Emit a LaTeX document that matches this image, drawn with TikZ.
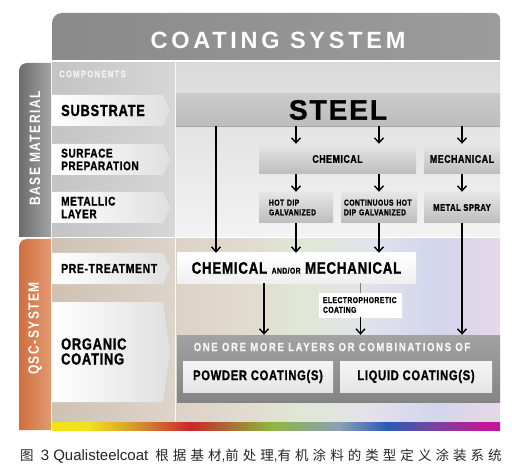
\documentclass[tikz,border=0pt]{standalone}
\usepackage{fontspec}
\setmainfont{Liberation Sans}
\newfontfamily\qsc[FakeStretch=0.8,FakeBold=1.2,LetterSpace=5]{Liberation Sans}
\newfontfamily\qscwide[FakeStretch=0.8,FakeBold=0.8,LetterSpace=14]{Liberation Sans}
\newfontfamily\qscband[FakeStretch=0.8,LetterSpace=10]{Liberation Sans}
\newfontfamily\qsctitle[LetterSpace=16]{Liberation Sans}
\newfontfamily\qscsteel[FakeBold=1.2,LetterSpace=7]{Liberation Sans}
\newfontfamily\cjk[LetterSpace=30]{Noto Sans CJK SC}
\usetikzlibrary{positioning,arrows.meta,shapes}

\definecolor{titleL}{HTML}{8A8A8A}
\definecolor{titleM}{HTML}{B2B2B2}
\definecolor{titleR}{HTML}{9C9C9C}
\definecolor{bandL}{HTML}{6C6C6C}
\definecolor{bandR}{HTML}{A4A4A4}
\definecolor{qscL}{HTML}{CF6F3F}
\definecolor{qscR}{HTML}{E29A72}
\definecolor{colL}{HTML}{C4C4C4}
\definecolor{colR}{HTML}{D6D6D6}
\definecolor{begL}{HTML}{CFC2B3}
\definecolor{begR}{HTML}{DDD4CA}
\definecolor{panelT}{HTML}{DADADA}
\definecolor{panelB}{HTML}{F3F3F3}
\definecolor{tabgray}{HTML}{E0E0E0}
\definecolor{silverA}{HTML}{E6E6E6}
\definecolor{silverB}{HTML}{BDBDBD}
\definecolor{darkA}{HTML}{A2A2A2}
\definecolor{darkB}{HTML}{848484}
\definecolor{pA}{HTML}{DDD2C6}
\definecolor{pB}{HTML}{E2DCD0}
\definecolor{pC}{HTML}{E0E8D4}
\definecolor{pD}{HTML}{E2E2EC}
\definecolor{pE}{HTML}{D2D5EC}
\definecolor{pF}{HTML}{E6D8E8}
\definecolor{rA}{HTML}{F2E21C}
\definecolor{rB}{HTML}{D89A30}
\definecolor{rC}{HTML}{C8282A}
\definecolor{rD}{HTML}{8CB83C}
\definecolor{rE}{HTML}{8AA0B8}
\definecolor{rF}{HTML}{2A5AB8}
\definecolor{rG}{HTML}{7048A0}
\definecolor{rH}{HTML}{C0189A}

\pgfdeclarehorizontalshading{pastel}{100bp}{color(0bp)=(pA); color(25bp)=(pA);
  color(37.5bp)=(pB); color(44bp)=(pC); color(55bp)=(pD); color(65bp)=(pE);
  color(75bp)=(pF); color(100bp)=(pF)}
\pgfdeclarehorizontalshading{rainbow}{100bp}{color(0bp)=(rA); color(29bp)=(rA);
  color(34bp)=(rB); color(40.5bp)=(rC); color(49.5bp)=(rD); color(57bp)=(rE);
  color(62.5bp)=(rF); color(67bp)=(rG); color(73bp)=(rH); color(100bp)=(rH)}

\tikzstyle{every node}=[inner sep=0pt]
\tikzstyle{comp}=[anchor=west, align=left, font={\qsc\bfseries\fontsize{12.5}{12.7}\selectfont}]
\tikzstyle{band}=[rotate=90, text=white, font={\qscband\bfseries\fontsize{15}{15}\selectfont}]
\tikzstyle{silver}=[rectangle, top color=silverA, bottom color=silverB, align=left,
  font={\qsc\bfseries\fontsize{8.5}{9.7}\selectfont}]
\tikzstyle{flow}=[-{Straight Barb[length=5pt,width=9pt]}, line width=1.4pt]

\newcommand{\comptab}[2]{%
  \shade[left color=white, right color=tabgray] (52,-#1) -- (163,-#1)
    -- (170,{-(#1+#2)/2}) -- (163,-#2) -- (52,-#2) -- cycle;}

\begin{document}
\begin{tikzpicture}[x=1pt,y=1pt]
    \useasboundingbox (0,0) rectangle (512,-476);
    \fill[white] (0,0) rectangle (512,-476);
    % title banner and side bands
    \shade[left color=titleL, middle color=titleM, right color=titleR]
      (52,-60) -- (52,-23) arc[start angle=180, end angle=90, radius=10]
      -- (494,-13) arc[start angle=90, end angle=0, radius=6] -- (500,-60) -- cycle;
    \shade[left color=bandL, right color=bandR]
      (19,-237) -- (19,-71) arc[start angle=180, end angle=90, radius=8] -- (51,-63) -- (51,-237) -- cycle;
    \shade[left color=qscL, right color=qscR]
      (19,-430) -- (19,-247) arc[start angle=180, end angle=90, radius=8] -- (51,-239) -- (51,-430) -- cycle;
    % columns
    \shade[left color=colL, right color=colR] (52,-63) rectangle (175,-237);
    \shade[left color=begL, right color=begR] (52,-239) rectangle (175,-422);
    \shade[top color=panelT, bottom color=panelB] (176,-63) rectangle (500,-237);
    \shade[shading=pastel] (176,-239) rectangle (500,-422);
    \shade[shading=rainbow] (52,-422) rectangle (500,-430);
    \comptab{95}{126}
    \comptab{144}{175}
    \comptab{192}{223}
    \comptab{253}{284}
    \comptab{302}{402}

    \node[text=white, font={\qsctitle\bfseries\fontsize{23.5}{24}\selectfont}] (title) at (278,-40) {COATING SYSTEM};
    \node[band] (basemat) at (35,-148.5) {BASE MATERIAL};
    \node[band] (qscsys) at (35,-328.5) {QSC-SYSTEM};
    \node[anchor=west, text=white!90!gray, font={\qscwide\bfseries\fontsize{9.5}{9.5}\selectfont}] (components) at (59,-74) {COMPONENTS};
    \node[comp, font={\qsc\bfseries\fontsize{16}{16}\selectfont}] (substrate) at (61,-110.5) {SUBSTRATE};
    \node[comp] (surface) at (61,-159.5) {SURFACE\\PREPARATION};
    \node[comp] (metallic) at (61,-207.5) {METALLIC\\LAYER};
    \node[comp, font={\qsc\bfseries\fontsize{13}{13}\selectfont}] (pretreat) at (61,-268.5) {PRE-TREATMENT};
    \node[comp, font={\qsc\bfseries\fontsize{16}{15}\selectfont}] (orgcoat) at (61,-351.5) {ORGANIC\\COATING};

    \node[silver, minimum width=324pt, minimum height=32pt, top color=silverB!80, bottom color=silverB,
      font={\qscsteel\bfseries\fontsize{28}{28}\selectfont}] (steel) at (338,-110) {STEEL};
    \draw[gray!70, line width=0.8pt] (steel.south west) -- (steel.south east);
    \node[silver, minimum width=157pt, minimum height=30pt, font={\qsc\bfseries\fontsize{11}{11}\selectfont}] (chem) at (337.5,-159) {CHEMICAL};
    \node[silver, minimum width=76pt, minimum height=30pt, font={\qsc\bfseries\fontsize{11}{11}\selectfont}] (mech) at (462,-159) {MECHANICAL};
    \node[silver, minimum width=74pt, minimum height=31pt, text width=54pt] (hotdip) at (296,-207.5) {HOT DIP\\GALVANIZED};
    \node[silver, minimum width=76pt, minimum height=31pt, text width=70pt] (contin) at (379,-207.5) {CONTINUOUS HOT\\DIP GALVANIZED};
    \node[silver, minimum width=76pt, minimum height=31pt, font={\qsc\bfseries\fontsize{9.5}{9.5}\selectfont}] (metal) at (462,-207.5) {METAL SPRAY};

    \node[silver, minimum width=239pt, minimum height=30pt, top color=white, bottom color=gray!12,
      font={\qsc\bfseries\fontsize{16.5}{16.5}\selectfont}] (chemmech) at (296.5,-268)
      {CHEMICAL {\fontsize{8.5}{8.5}\selectfont AND/OR} MECHANICAL};
    \node[silver, minimum width=83pt, minimum height=24pt, text width=75pt, top color=white, bottom color=white] (electro) at (360.5,-305) {ELECTROPHORETIC\\COATING};
    \node[rectangle, minimum width=323pt, minimum height=67pt, top color=darkA, bottom color=darkB] (organic) at (338.5,-368.5) {};
    \node[text=white!92!gray, font={\qscwide\bfseries\fontsize{11.9}{11.9}\selectfont}] (layers) at (332,-347) {ONE ORE MORE LAYERS OR COMBINATIONS OF};
    \node[silver, minimum width=150pt, minimum height=31pt, top color=gray!8, bottom color=gray!20,
      font={\qsc\bfseries\fontsize{14}{14}\selectfont}] (powder) at (258,-376.5) {POWDER COATING(S)};
    \node[silver, minimum width=152pt, minimum height=31pt, top color=gray!8, bottom color=gray!20,
      font={\qsc\bfseries\fontsize{14}{14}\selectfont}] (liquid) at (416,-376.5) {LIQUID COATING(S)};

    \coordinate (drop) at (216,-120);
    \coordinate (down) at (264,-300);
    \draw[flow] (steel.south -| drop) -- (chemmech.north -| drop);
    \draw[flow] (steel.south -| hotdip) -- (chem.north -| hotdip);
    \draw[flow] (steel.south -| contin) -- (chem.north -| contin);
    \draw[flow] (steel.south -| metal) -- (mech.north);
    \draw[flow] (chem.south -| hotdip) -- (hotdip.north);
    \draw[flow] (chem.south -| contin) -- (contin.north);
    \draw[flow] (mech.south) -- (metal.north);
    \draw[flow] (hotdip.south) -- (chemmech.north -| hotdip);
    \draw[flow] (contin.south) -- (chemmech.north -| contin);
    \draw[flow] (metal.south) -- (organic.north -| metal);
    \draw[flow] (chemmech.south -| down) -- (organic.north -| down);
    \draw[gray, line width=1.4pt] (chemmech.south -| electro) -- (electro.north);
    \draw[flow] (electro.south) -- (organic.north -| electro);

    \node[anchor=west, text=black!85, font={\cjk\fontsize{13.5}{14}\selectfont}] (caption) at (20,-456)
      {图 {\rmfamily\fontsize{15}{15}\selectfont 3 Qualisteelcoat} 根据基材{\rmfamily ,}前处理{\rmfamily ,}有机涂料的类型定义涂装系统};
\end{tikzpicture}
\end{document}
